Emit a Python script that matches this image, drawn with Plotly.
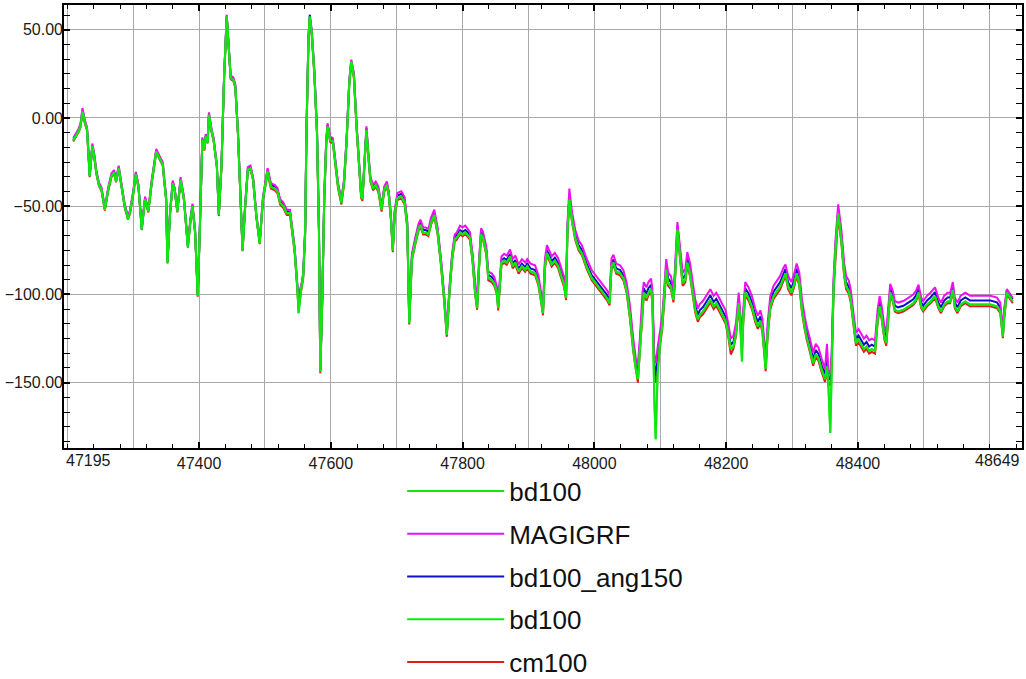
import plotly.graph_objects as go

# ---------------- data ----------------
x_vals = [
    47209, 47214, 47217, 47220, 47223, 47227, 47230, 47234, 47238, 47241,
    47244, 47248, 47252, 47257, 47262, 47267, 47271, 47274, 47278, 47282,
    47287, 47292, 47295, 47300, 47304, 47308, 47313, 47318, 47323, 47328,
    47335, 47340, 47345, 47347, 47350, 47352, 47356, 47360, 47363, 47367,
    47372, 47377, 47383, 47387, 47390, 47394, 47398, 47401, 47405, 47408,
    47410, 47413, 47415, 47419, 47422, 47427, 47430, 47434, 47438, 47442,
    47444, 47448, 47452, 47455, 47459, 47463, 47466, 47470, 47474, 47478,
    47482, 47487, 47492, 47497,
    47504, 47509, 47515, 47519, 47523, 47528, 47533, 47538, 47541, 47545,
    47549, 47551, 47555, 47558, 47561, 47563, 47566, 47568, 47571, 47575,
    47579, 47582, 47584, 47587, 47590, 47593, 47595, 47599, 47603, 47606,
    47611, 47616, 47620, 47624, 47628, 47631, 47635, 47639, 47643, 47646,
    47648, 47651, 47654, 47657, 47660, 47664, 47668, 47672, 47677, 47681,
    47685, 47688, 47691, 47694, 47697,
    47701, 47707, 47712, 47716, 47719, 47723, 47728, 47733, 47736, 47740,
    47744, 47748, 47752, 47757, 47762, 47767, 47772, 47776, 47780, 47784,
    47788, 47791, 47796, 47800, 47804, 47807, 47811, 47815, 47819, 47822,
    47825, 47828, 47831, 47836, 47839, 47844, 47848, 47852, 47854, 47857,
    47859, 47863, 47867, 47872, 47876, 47880, 47885, 47890, 47895, 47898,
    47903, 47910, 47915, 47919, 47922, 47925, 47928, 47932, 47935, 47940,
    47945, 47950, 47954, 47957, 47959, 47962, 47966, 47971, 47976, 47981,
    47988, 47996, 48004, 48011, 48019, 48023, 48026, 48029, 48033, 48039,
    48044, 48049,
    48054, 48059, 48063, 48066, 48069, 48073, 48075, 48079, 48082, 48086,
    48088, 48091, 48093, 48096, 48100, 48103, 48106, 48109, 48112, 48116,
    48120, 48122, 48126, 48130, 48134, 48138, 48141, 48145, 48149, 48153,
    48157, 48160, 48165, 48170, 48176, 48181, 48185, 48189, 48194, 48199,
    48203, 48207, 48211, 48215, 48219, 48221, 48224, 48226, 48229, 48234,
    48239, 48244, 48248, 48252, 48255, 48258, 48260, 48263, 48267, 48272,
    48277, 48282, 48287, 48290, 48294, 48299, 48303, 48307, 48311, 48315,
    48319, 48322, 48327, 48332, 48336, 48340, 48345, 48350, 48353, 48355,
    48358, 48360, 48363, 48366, 48370, 48375, 48379, 48382, 48386, 48389,
    48393, 48397, 48401, 48404, 48409, 48413, 48417, 48421, 48426, 48430,
    48433, 48436, 48440, 48443, 48446, 48449,
    48453, 48456, 48461, 48469, 48477, 48484, 48488, 48492, 48496, 48499,
    48505, 48510, 48517, 48522, 48526, 48531, 48536, 48540, 48544, 48547,
    48551, 48556, 48563, 48570, 48580, 48590, 48601, 48611, 48616, 48620,
    48622, 48626, 48630, 48635,
]

bd100 = [
    -12.8, -9.6, -7.7, -4.9, 3.6, -3, -6.8, -33, -16, -22,
    -31, -38, -41, -52, -41, -33, -31, -36, -28.5, -38,
    -50, -57, -54, -43, -32, -39, -63, -46, -53, -37,
    -19, -23, -26.6, -35, -46, -82, -54, -37, -41, -53,
    -35, -46, -73, -58, -50, -65, -100.8, -65, -12.5, -18,
    -10.6, -14, 1.7, -7.7, -12.5, -27.5, -55, -27.5, 23, 57.4,
    44, 22.5, 21.5, 17.7, -8.7, -46, -75, -50, -29.4, -28.5,
    -35, -56, -71, -46,
    -30.4, -39, -40, -41.7, -48, -50, -54, -54, -63, -75,
    -95.5, -110.6, -97, -90, -65, -8.7, 44, 57.4, 48, 25,
    -8.7, -65, -143.6, -103, -46, -14, -5, -12.5, -13.4, -22,
    -39, -48, -37, -12.5, 19.6, 32, 23.4, -5, -31, -44.5,
    -46, -29.4, -6.8, -22, -35, -40, -38, -40.8, -52, -40.8,
    -38, -43.6, -56, -75, -54,
    -45.5, -44.5, -48, -61.5, -116, -80, -71, -63, -60.6, -65,
    -65, -66, -59.6, -55, -65, -82, -103, -123, -99, -80,
    -69, -68, -65, -66, -65, -66, -68, -80, -99, -107.7,
    -84, -66, -68, -76.6, -90.8, -91.7, -93.6, -99, -107.7, -93.6,
    -82, -81, -82, -78.5, -84, -82, -87, -84, -86, -84,
    -87, -88, -93.6, -103, -110.6, -84, -76.6, -80, -83, -81,
    -84, -90, -94.5, -102, -65, -46.4, -57.7, -68, -73.8, -76.6,
    -84, -90.8, -94.5, -98, -102, -105, -84, -82, -87, -88,
    -90.8, -98,
    -112.5, -131, -142.6, -148, -131, -105, -99, -102, -99, -97,
    -103, -160, -182, -144.5, -125.7, -118, -103, -86, -93.6, -95.5,
    -103, -93.6, -63.4, -80, -93.6, -91.7, -82, -88, -99, -108.7,
    -114, -111.5, -109.6, -106.8, -103, -106.8, -105, -107.7, -111.5, -115,
    -122, -131, -129.4, -122, -105, -114, -138, -114, -99, -102,
    -106.8, -114, -118, -115, -120, -133, -142, -122, -106.8, -101,
    -98, -95.5, -90.8, -88, -95.5, -99, -94.5, -88, -93.6, -108.7,
    -118, -123.8, -131, -138.9, -134, -136, -142.6, -148, -140.8, -150,
    -178.5, -140.8, -97, -75, -54, -70, -88, -95.5, -98, -103,
    -116, -127.5, -125.7, -127.5, -131, -129.4, -132, -131, -132, -114,
    -106.8, -112.5, -123.8, -127.5, -112.5, -99,
    -103, -108.7, -109.6, -108.7, -106.8, -105, -103, -99, -106.8, -108.7,
    -105.7, -104, -101, -106.8, -109.6, -105.7, -104, -104, -97.4, -106.8,
    -109.6, -105.7, -104, -105.7, -105.7, -105.7, -105.7, -106.8, -109.6, -123.8,
    -112.5, -99, -101, -104,
]

magigrf = [
    -11.3, -8.1, -6.2, -3.4, 5.6, -1.5, -5.3, -31.5, -14.5, -20.5,
    -29.5, -36.5, -39.5, -50.5, -39.5, -31.5, -29.5, -34.5, -27, -36.5,
    -48.5, -55.5, -52.5, -41.5, -30.5, -37.5, -61.5, -44.5, -51.5, -35.5,
    -17.5, -21.5, -25.1, -33.5, -44.5, -80.5, -52.5, -35.5, -39.5, -51.5,
    -33.5, -44.5, -71.5, -56.5, -48.5, -63.5, -99.3, -63.5, -11, -16.5,
    -9.1, -12.5, 3.2, -6.2, -11, -26, -53.5, -26, 24.5, 58.4,
    45.5, 24, 23, 19.2, -7.2, -44.5, -73.5, -48.5, -27.9, -27,
    -33.5, -54.5, -69.5, -44.5,
    -28.4, -37, -38, -39.7, -46, -48, -52, -52, -61, -73,
    -93.5, -100, -95, -88, -63, -6.7, 46, 57, 50, 27,
    -6.7, -63, -142, -101, -44, -12, -3, -10.5, -11.4, -20,
    -37, -46, -35, -10.5, 21.6, 33, 25.4, -3, -29, -42.5,
    -44, -27.4, -4.8, -20, -33, -38, -36, -38.8, -50, -38.8,
    -36, -41.6, -54, -73, -52,
    -42.5, -41.5, -45, -58.5, -113, -77, -68, -60, -57.6, -62,
    -62, -63, -56.6, -52, -62, -79, -100, -120, -96, -77,
    -66, -65, -61, -62, -61, -62.5, -64.5, -76.5, -95.5, -104.5,
    -80.5, -62.5, -64.5, -73, -87, -88, -90, -95.5, -104, -90,
    -78.5, -77, -78, -74.5, -80, -78, -83, -80, -82, -80,
    -82.5, -83.5, -89.1, -98.5, -106.1, -79.5, -72.1, -75.5, -78.5, -76.5,
    -79.5, -85.5, -90, -97.5, -60.5, -40, -53.2, -63.5, -69.3, -72.1,
    -79.5, -86.3, -90, -93.5, -97.5, -100.5, -79.5, -77.5, -82.5, -83.5,
    -86.3, -93.5,
    -106.5, -125, -136.6, -140, -125, -99, -93, -96, -93, -91,
    -97, -135, -139, -130, -119.7, -112, -97, -80, -87.6, -89.5,
    -97, -87.6, -59, -74, -87.6, -85.7, -76, -82, -93, -102.7,
    -108, -105.5, -103.6, -100.8, -97, -100.8, -99, -101.7, -105.5, -109,
    -116, -125, -123.4, -116, -99, -108, -122, -108, -93, -96,
    -100.8, -108, -112, -109, -114, -127, -137, -116, -100.8, -95,
    -92, -89.5, -84.8, -83, -89.5, -93, -88.5, -82.5, -87.6, -102.7,
    -112, -117.8, -125, -132.9, -128, -130, -136.6, -142, -128, -143,
    -145, -134.8, -91, -69, -49, -64, -82, -89.5, -92, -97,
    -110, -121.5, -119.7, -121.5, -125, -123.4, -126, -125, -126, -108,
    -101, -106.5, -117.8, -121.5, -106.5, -94,
    -98, -103.7, -104.6, -103.7, -101.8, -100, -98, -94.5, -101.8, -103.7,
    -100.7, -99, -96, -101.8, -104.6, -100.7, -99, -99, -93, -101.8,
    -104.6, -100.7, -99, -100.7, -100.7, -100.7, -100.7, -101.8, -104.6, -120,
    -108, -97, -99, -102,
]

bd100_ang150 = [
    -12.3, -9.1, -7.2, -4.4, 4.1, -2.5, -6.3, -32.5, -15.5, -21.5,
    -30.5, -37.5, -40.5, -51.5, -40.5, -32.5, -30.5, -35.5, -28, -37.5,
    -49.5, -56.5, -53.5, -42.5, -31.5, -38.5, -62.5, -45.5, -52.5, -36.5,
    -18.5, -22.5, -26.1, -34.5, -45.5, -81.5, -53.5, -36.5, -40.5, -52.5,
    -34.5, -45.5, -72.5, -57.5, -49.5, -64.5, -100.3, -64.5, -12, -17.5,
    -10.1, -13.5, 2.2, -7.2, -12, -27, -54.5, -27, 23.5, 57.9,
    44.5, 23, 22, 18.2, -8.2, -45.5, -74.5, -49.5, -28.9, -28,
    -34.5, -55.5, -70.5, -45.5,
    -29.4, -38, -39, -40.7, -47, -49, -53, -53, -62, -74,
    -94.5, -104, -96, -89, -64, -7.7, 45, 58.5, 49, 26,
    -7.7, -64, -143, -102, -45, -13, -4, -11.5, -12.4, -21,
    -38, -47, -36, -11.5, 20.6, 32.5, 24.4, -4, -30, -43.5,
    -45, -28.4, -5.8, -21, -34, -39, -37, -39.8, -51, -39.8,
    -37, -42.6, -55, -74, -53,
    -44, -43, -46.5, -60, -114.5, -78.5, -69.5, -61.5, -59.1, -63.5,
    -63.5, -64.5, -58.1, -53.5, -63.5, -80.5, -101.5, -121.5, -97.5, -78.5,
    -67.5, -66.5, -63.5, -64.5, -63.5, -64.5, -66.5, -78.5, -97.5, -106.2,
    -82.5, -64.5, -66.5, -75, -89, -90, -92, -97.5, -106, -92,
    -80.5, -79.5, -80.5, -77, -82.5, -80.5, -85.5, -82.5, -84.5, -82.5,
    -85.2, -86.2, -91.8, -101.2, -108.8, -82.2, -74.8, -78.2, -81.2, -79.2,
    -82.2, -88.2, -92.7, -100.2, -63.2, -44.6, -55.9, -66.2, -72, -74.8,
    -82.2, -89, -92.7, -96.2, -100.2, -103.2, -82.2, -80.2, -85.2, -86.2,
    -89, -96.2,
    -110, -128.5, -140.1, -144, -128.5, -102.5, -96.5, -99.5, -96.5, -94.5,
    -100.5, -140, -146, -136, -123.2, -115.5, -100.5, -83.5, -91.1, -93,
    -100.5, -91.1, -61, -77.5, -91.1, -89.2, -79.5, -85.5, -96.5, -106.2,
    -111.5, -109, -107.1, -104.3, -100.5, -104.3, -102.5, -105.2, -109, -112.5,
    -119.5, -128.5, -126.9, -119.5, -102.5, -111.5, -127, -111.5, -96.5, -99.5,
    -104.3, -111.5, -115.5, -112.5, -117.5, -130.5, -139.5, -119.5, -104.3, -98.5,
    -95.5, -93, -88.3, -85.5, -93, -96.5, -92, -85.5, -91.1, -106.2,
    -115.5, -121.3, -128.5, -136.4, -131.5, -133.5, -140.1, -145.5, -135, -147.5,
    -148, -138.3, -94.5, -72.5, -52, -67.5, -85.5, -93, -95.5, -100.5,
    -113.5, -125, -123.2, -125, -128.5, -126.9, -129.5, -128.5, -129.5, -111.5,
    -104.3, -110, -121.3, -125, -110, -96.5,
    -100.7, -106.4, -107.3, -106.4, -104.5, -102.7, -100.7, -96.7, -104.5, -106.4,
    -103.4, -101.7, -98.7, -104.5, -107.3, -103.4, -101.7, -101.7, -95.1, -104.5,
    -107.3, -103.4, -101.7, -103.4, -103.4, -103.4, -103.4, -104.5, -107.3, -121.5,
    -110.2, -97.5, -99.5, -102.5,
]

cm100 = [
    -13.3, -10.1, -8.2, -5.4, 3.1, -3.5, -7.3, -33.5, -16.5, -22.5,
    -31.5, -38.5, -41.5, -52.5, -41.5, -33.5, -31.5, -36.5, -29, -38.5,
    -50.5, -57.5, -54.5, -43.5, -32.5, -39.5, -63.5, -46.5, -53.5, -37.5,
    -19.5, -23.5, -27.1, -35.5, -46.5, -82.5, -54.5, -37.5, -41.5, -53.5,
    -35.5, -46.5, -73.5, -58.5, -50.5, -65.5, -101.3, -65.5, -13, -18.5,
    -11.1, -14.5, 1.2, -8.2, -13, -28, -55.5, -28, 22.5, 56.9,
    43.5, 22, 21, 17.2, -9.2, -46.5, -75.5, -50.5, -29.9, -29,
    -35.5, -56.5, -71.5, -46.5,
    -31.4, -40, -41, -42.7, -49, -51, -55, -55, -64, -76,
    -96.5, -108, -98, -91, -66, -9.7, 43, 56.4, 47, 24,
    -9.7, -66, -144.6, -104, -47, -15, -6, -13.5, -14.4, -23,
    -40, -49, -38, -13.5, 18.6, 31, 22.4, -6, -32, -45.5,
    -47, -30.4, -7.8, -23, -36, -41, -39, -41.8, -53, -41.8,
    -39, -44.6, -57, -76, -55,
    -46.5, -45.5, -49, -62.5, -117, -81, -72, -64, -61.6, -66,
    -66, -67, -60.6, -56, -66, -83, -104, -124, -100, -81,
    -70, -69, -66, -67, -66, -67, -69, -81, -100, -108.7,
    -85, -67, -69, -77.6, -92, -93, -95, -100, -109, -94.8,
    -83.2, -82.2, -83.2, -79.7, -85.2, -83.2, -88.2, -85.2, -87.2, -85.2,
    -88.2, -89.2, -94.8, -104.2, -111.8, -85.2, -77.8, -81.2, -84.2, -82.2,
    -85.2, -91.2, -95.7, -103.2, -66.2, -47.6, -58.9, -69.2, -75, -77.8,
    -85.2, -92, -95.7, -99.2, -103.2, -106.2, -85.2, -83.2, -88.2, -89.2,
    -92, -99.2,
    -114, -132.5, -144.1, -150, -132.5, -106.5, -100.5, -103.5, -100.5, -98.5,
    -104.5, -145, -150, -140, -127.2, -119.5, -104.5, -87.5, -95.1, -97,
    -104.5, -95.1, -65, -81.5, -95.1, -93.2, -83.5, -89.5, -100.5, -110.2,
    -115.5, -113, -111.1, -108.3, -104.5, -108.3, -106.5, -109.2, -113, -116.5,
    -123.5, -134, -130.9, -123.5, -106.5, -115.5, -130, -115.5, -100.5, -103.5,
    -108.3, -115.5, -119.5, -116.5, -121.5, -134.5, -143.5, -123.5, -108.3, -102.5,
    -99.5, -97, -92.3, -89.5, -97, -100.5, -96, -89.5, -95.1, -110.2,
    -119.5, -125.3, -132.5, -140.4, -135.5, -137.5, -144.1, -149.5, -142.3, -151.5,
    -151, -142.3, -98.5, -76.5, -55.5, -71.5, -89.5, -97, -99.5, -104.5,
    -117.5, -129, -127.2, -129, -132.5, -130.9, -133.5, -132.5, -133.5, -115.5,
    -108.3, -114, -125.3, -129, -114, -100.5,
    -104, -109.7, -110.6, -109.7, -107.8, -106, -104, -100, -107.8, -109.7,
    -106.7, -105, -102, -107.8, -110.6, -106.7, -105, -105, -98.4, -107.8,
    -110.6, -106.7, -105, -106.7, -106.7, -106.7, -106.7, -107.8, -110.6, -124.8,
    -113.5, -100, -102, -105,
]

x_range = [47195, 48649]
y_range = [-187, 64]
x_tick_vals = [47195, 47400, 47600, 47800, 48000, 48200, 48400, 48649]
x_tick_text = ["47195", "47400", "47600", "47800", "48000", "48200", "48400", "48649"]
y_tick_vals = [50, 0, -50, -100, -150]

series_names = ["bd100", "MAGIGRF", "bd100_ang150", "bd100", "cm100"]
series_colors = ["#10e810", "#ee10ee", "#1010c8", "#10e810", "#e81818"]

assert len(x_vals) == len(bd100) == len(magigrf) == len(bd100_ang150) == len(cm100), (
    len(x_vals), len(bd100), len(magigrf), len(bd100_ang150), len(cm100))

fig = go.Figure()

# draw order: red, blue, magenta, green, green (green on top)
draw = [
    (4, cm100),
    (2, bd100_ang150),
    (1, magigrf),
    (3, bd100),
    (0, bd100),
]
for idx, ys in draw:
    fig.add_trace(go.Scatter(
        x=x_vals, y=ys, mode="lines",
        name=series_names[idx],
        line=dict(color=series_colors[idx], width=2),
        legendgroup=f"g{idx}", legendrank=idx + 1,
        hoverinfo="skip",
    ))

# helper trace so the overlay axis (small ticks) exists
fig.add_trace(go.Scatter(x=[], y=[], xaxis="x2", yaxis="y",
                         showlegend=False, hoverinfo="skip"))

font_family = "Liberation Sans, Arial, sans-serif"
grid_c = "#a8a8a8"
tick_font = dict(size=16, color="#1a1a1a", family=font_family)

# edge tick labels are drawn inward-justified, as in the reference
inner_text = [t if v not in (x_range[0], x_range[1]) else "" for v, t in zip(x_tick_vals, x_tick_text)]
edge_labels = [
    dict(x=x_tick_vals[0], text=x_tick_text[0], xanchor="left"),
    dict(x=x_tick_vals[-1], text=x_tick_text[-1], xanchor="right"),
]
annotations = [
    dict(x=e["x"], y=0, xref="x", yref="paper", text=e["text"], xanchor=e["xanchor"],
         yanchor="top", yshift=-2, showarrow=False, font=tick_font)
    for e in edge_labels
]

fig.update_layout(
    width=1026, height=679,
    paper_bgcolor="white", plot_bgcolor="white",
    margin=dict(l=64, r=4, t=5, b=231, autoexpand=False),
    font=dict(family=font_family, color="#1a1a1a"),
    showlegend=True,
    legend=dict(
        x=0.353, y=-0.044, xanchor="left", yanchor="top",
        font=dict(size=26, color="#111111", family=font_family),
        traceorder="grouped", tracegroupgap=6,
        bgcolor="rgba(0,0,0,0)", itemwidth=97,
    ),
    annotations=annotations,
    xaxis=dict(
        range=x_range, tickmode="array", tickvals=x_tick_vals, ticktext=inner_text,
        showgrid=True, gridcolor=grid_c, gridwidth=1,
        minor=dict(tick0=47200, dtick=100, showgrid=True, gridcolor=grid_c,
                   gridwidth=1, ticks=""),
        ticks="inside", ticklen=6, tickcolor="black", tickwidth=1.5,
        showline=True, linecolor="black", linewidth=1.6, mirror="allticks",
        zeroline=False, tickfont=tick_font, automargin=False,
    ),
    xaxis2=dict(
        range=x_range, overlaying="x", anchor="y", side="bottom",
        tickmode="linear", tick0=47200, dtick=40,
        ticks="inside", ticklen=4, tickcolor="black", tickwidth=1.2,
        showticklabels=False, showgrid=False, showline=False, zeroline=False,
        mirror="ticks", automargin=False,
    ),
    yaxis=dict(
        range=y_range, tickmode="array", tickvals=y_tick_vals, tickformat=".2f",
        showgrid=True, gridcolor=grid_c, gridwidth=1,
        minor=dict(tick0=0, dtick=50 / 6, ticks="inside", ticklen=4,
                   tickcolor="black", tickwidth=1.2, showgrid=False),
        ticks="inside", ticklen=6, tickcolor="black", tickwidth=1.5,
        showline=True, linecolor="black", linewidth=1.6, mirror="allticks",
        zeroline=False, tickfont=tick_font, automargin=False,
        ticklabelstandoff=-4,
    ),
)

# remove the page's default 8px body margin so the figure sits at the window origin
fig.write_html("out.html", config={"displayModeBar": False},
               post_script="document.body.style.margin='0px';")
